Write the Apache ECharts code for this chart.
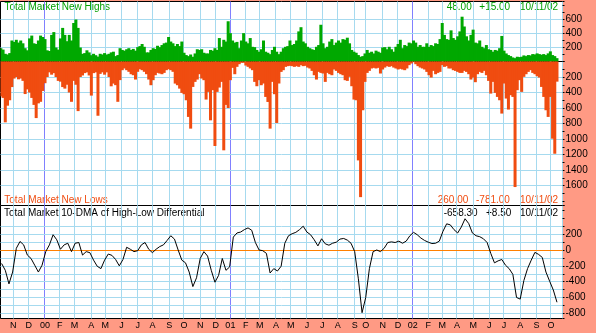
<!DOCTYPE html>
<html><head><meta charset="utf-8">
<script src="https://cdn.jsdelivr.net/npm/echarts@6/dist/echarts.min.js"></script>
<style>html,body{margin:0;padding:0;background:#ff9a84;}#c{width:596px;height:333px;}</style>
</head><body><div id="c"></div>
<script>
// ---------------- data ----------------
const startDate = '1999-10-07';
const endDate = '2002-10-11';
const padDays = 7;
const holidays = ['1999-11-25','1999-12-24',
 '2000-01-17','2000-02-21','2000-04-21','2000-05-29','2000-07-04','2000-09-04','2000-11-23','2000-12-25',
 '2001-01-01','2001-01-15','2001-02-19','2001-04-13','2001-05-28','2001-07-04','2001-09-03','2001-09-11','2001-09-12','2001-09-13','2001-09-14','2001-11-22','2001-12-25',
 '2002-01-01','2002-01-21','2002-02-18','2002-03-29','2002-05-27','2002-07-04','2002-09-02'];

// one value every 3 trading days (last = 10/11/02)
const barStep = 3;
const newHighs = [190,
170,110,100,120,300,280,310,270,300,260,
190,160,330,370,260,250,300,370,350,320,
160,150,380,420,200,170,330,480,380,290,
380,300,550,600,480,200,110,120,160,130,
90,110,90,70,110,100,120,100,110,130,
140,77,92,190,165,155,175,190,165,180,
155,205,220,250,210,130,130,165,190,180,
225,205,235,260,270,350,285,260,220,250,
220,285,125,92,77,100,68,115,175,165,
175,125,115,115,165,155,190,165,335,210,
310,285,575,405,300,270,280,190,300,405,
285,260,335,210,205,165,140,175,300,140,
125,105,165,210,140,105,140,190,210,220,
300,235,250,300,430,490,285,260,210,190,
175,165,210,235,525,260,190,210,285,
320,235,270,300,270,320,310,340,260,165,
140,125,92,68,77,115,165,125,140,115,
155,140,125,200,205,175,210,175,140,210,
250,310,190,235,220,270,260,300,270,210,
235,210,210,260,210,235,220,260,250,320,
550,380,320,310,445,335,310,360,430,640,
500,360,300,380,455,270,260,300,210,190,
235,175,165,140,165,155,190,365,155,115,
92,77,58,48,68,63,68,87,77,92,
87,106,101,116,106,97,106,92,116,145,
92,77,48];

const newLows = [450,
470,785,570,500,330,220,200,230,220,250,
420,360,400,470,560,730,540,520,380,280,
200,140,170,150,200,250,260,330,350,300,
400,520,250,300,640,200,180,150,140,180,
440,150,140,700,160,140,170,140,200,320,
285,305,520,240,112,90,112,133,164,177,
233,133,100,112,133,164,233,306,241,177,
147,155,164,147,112,100,112,133,285,306,
350,405,422,500,715,866,328,263,233,164,
220,241,491,392,759,370,1090,392,336,263,
1146,560,600,241,82,164,69,35,17,17,
52,69,90,112,263,319,241,306,284,457,
522,866,263,422,793,284,134,112,69,60,
56,60,69,60,69,47,60,56,78,90,
121,177,233,134,147,155,263,147,164,
177,103,121,147,164,177,241,250,198,319,
491,500,1276,1750,629,263,147,121,90,82,
90,82,155,103,78,60,69,60,78,90,
103,95,103,112,90,47,26,9,35,60,
78,90,103,134,177,207,121,164,147,134,
47,69,60,90,90,112,121,134,147,147,
121,134,164,233,207,267,164,134,147,121,
177,250,414,263,405,457,500,672,284,478,
620,435,457,1620,370,241,392,198,164,134,
112,147,164,190,207,328,457,629,715,457,
996,1190,260];

// weekly (every 5 trading days, last = 10/11/02)
const dmaStep = 5, dmaOffset = 1;
const dma10 = [-170,
-256,-427,-278,21,107,64,-64,-107,-192,-278,
-192,-21,64,192,128,9,64,85,-21,85,
94,-64,-21,-34,-128,-205,-235,-128,-51,-68,
-120,-200,-120,34,9,-21,-9,64,94,9,
-34,9,43,64,120,179,137,0,-128,-162,
-278,-461,-350,-107,-21,-77,-256,-406,-320,-107,
-256,-214,162,214,226,256,278,248,94,0,
-9,-43,-290,-235,-265,-205,85,179,205,222,
256,299,226,192,128,51,141,77,60,85,
98,137,145,124,85,-21,-363,-790,-598,-235,
-21,0,-21,21,94,102,94,111,85,111,
179,222,192,150,120,98,81,85,111,235,
329,316,256,214,290,393,333,214,179,167,
141,94,-43,-162,-137,-120,-192,-235,-307,-598,
-619,-384,-235,-128,-30,-56,-94,-278,-393,-504,-658.3];

const highTicks = [200,400,600];
const lowTicks = [200,400,600,800,1000,1200,1400,1600];
const dmaTicks = [-800,-600,-400,-200,0,200];
const dmaGrid = [-800,-700,-600,-500,-400,-300,-200,-100,0,100,200,300];
const monthLetters = ['J','F','M','A','M','J','J','A','S','O','N','D'];
const highsInfo = ['48.00','+15.00','10/11/02'];
const lowsInfo = ['260.00','-781.00','10/11/02'];
const dmaInfo = ['-658.30','+8.50','10/11/02'];

// ---------------- calendar ----------------
function tradingDays(start, end, extra) {
  const hol = new Set(holidays), out = [];
  let t = Date.parse(start + 'T00:00:00Z');
  const e = Date.parse(end + 'T00:00:00Z');
  let added = 0;
  while (true) {
    const d = new Date(t), dow = d.getUTCDay(), s = d.toISOString().slice(0, 10);
    if (dow !== 0 && dow !== 6 && !hol.has(s)) {
      if (t <= e) out.push(s);
      else { if (added >= extra) break; out.push(s); added++; }
    }
    t += 86400000;
  }
  return out;
}
const days = tradingDays(startDate, endDate, padDays);
const monthStart = days.map((d, i) => i > 0 && d.slice(5, 7) !== days[i - 1].slice(5, 7));

// ---------------- style ----------------
const FONT = '"Liberation Sans", Arial, sans-serif';
const SALMON = '#ff9a84';
const GRIDC = '#a6daef';
const YEARC = '#8080ff';
const GREEN = '#00a800';
const RED = '#f04c10';
const monthLineColors = [GRIDC, GRIDC, YEARC, GRIDC, GRIDC, GRIDC, GRIDC, GRIDC, GRIDC, GRIDC, GRIDC, GRIDC];

const hiMax = 857.14, loMax = 1858, dmaMin = -863, dmaMax = 560;

function gridLines(vals) {
  return { silent: true, z: 1, symbol: ['none', 'none'], label: { show: false }, emphasis: { disabled: true },
    lineStyle: { color: GRIDC, width: 1, type: 'solid' }, data: vals.map(v => ({ yAxis: v })) };
}

const gridBase = { left: 0.5, right: 33.5, show: true, backgroundColor: '#fff', borderColor: '#000', borderWidth: 1, containLabel: false, outerBoundsMode: 'none' };
const yBase = { type: 'value', position: 'right', axisLine: { show: false },
  axisTick: { show: true, length: 2, lineStyle: { color: '#000' } }, splitLine: { show: false } };
const labelBase = { color: '#000', fontSize: 10, margin: 3, fontFamily: FONT };

const chart = echarts.init(document.getElementById('c'), null, { renderer: 'canvas' });
const option = {
  animation: false,
  backgroundColor: SALMON,
  textStyle: { fontFamily: FONT },
  grid: [
    Object.assign({ top: 1.5, height: 60 }, gridBase),
    Object.assign({ top: 61.5, height: 144 }, gridBase),
    Object.assign({ top: 205.5, height: 113 }, gridBase)
  ],
  xAxis: [0, 1, 2].map(g => ({
    type: 'category', gridIndex: g, data: days, boundaryGap: true,
    axisLine: { show: false }, axisTick: { show: false },
    axisLabel: g === 2 ? {
      show: true, interval: (i) => monthStart[i], color: '#000', fontSize: 9, margin: 3, fontFamily: FONT,
      formatter: (val) => { const mo = +val.slice(5, 7); return mo === 1 ? val.slice(2, 4) : monthLetters[mo - 1]; }
    } : { show: false },
    splitLine: { show: true, interval: (i) => monthStart[i], lineStyle: { color: monthLineColors, width: 1 } }
  })),
  yAxis: [
    Object.assign({ gridIndex: 0, min: 0, max: hiMax, splitNumber: 9,
      axisLabel: Object.assign({ formatter: v => highTicks.includes(v) ? String(v) : '' }, labelBase) }, yBase),
    Object.assign({ gridIndex: 1, inverse: true, min: 0, max: loMax, splitNumber: 19,
      axisLabel: Object.assign({ formatter: v => lowTicks.includes(v) ? String(v) : '' }, labelBase) }, yBase),
    Object.assign({ gridIndex: 2, min: dmaMin, max: dmaMax, splitNumber: 14,
      axisLabel: Object.assign({ formatter: v => dmaTicks.includes(v) ? String(v) : '' }, labelBase) }, yBase)
  ],
  series: [
    { type: 'bar', xAxisIndex: 0, yAxisIndex: 0, barWidth: 3, itemStyle: { color: GREEN }, silent: true, z: 2,
      data: newHighs.map((v, m) => [m * barStep, v]), markLine: gridLines(highTicks) },
    { type: 'bar', xAxisIndex: 1, yAxisIndex: 1, barWidth: 3, itemStyle: { color: RED }, silent: true, z: 2,
      data: newLows.map((v, m) => [m * barStep, v]), markLine: gridLines(lowTicks) },
    { type: 'line', xAxisIndex: 2, yAxisIndex: 2, z: 1, data: [], markLine: gridLines(dmaGrid) },
    { type: 'line', xAxisIndex: 2, yAxisIndex: 2, showSymbol: false, symbol: 'none', silent: true, z: 3,
      lineStyle: { color: '#000', width: 1 }, itemStyle: { color: '#000' },
      data: dma10.map((v, j) => [j * dmaStep + dmaOffset, v]),
      markLine: { silent: true, z: 2, symbol: ['none', 'none'], label: { show: false },
        lineStyle: { color: '#ff8000', width: 1.2, type: 'solid' }, data: [{ yAxis: 0 }] } }
  ],
  graphic: [
    { type: 'text', x: 4.5, y: 7.5, style: { text: 'Total Market New Highs', fill: '#009f00', font: '10px ' + FONT, textVerticalAlign: 'middle' } },
    { type: 'text', x: 446.7, y: 7.5, style: { text: highsInfo[0], fill: '#009f00', font: '10px ' + FONT, textVerticalAlign: 'middle' } },
    { type: 'text', x: 479.3, y: 7.5, style: { text: highsInfo[1], fill: '#009f00', font: '10px ' + FONT, textVerticalAlign: 'middle' } },
    { type: 'text', x: 520, y: 7.5, style: { text: highsInfo[2], fill: '#009f00', font: '10px ' + FONT, textVerticalAlign: 'middle' } },
    { type: 'text', x: 4.3, y: 200, style: { text: 'Total Market New Lows', fill: RED, font: '10px ' + FONT, textVerticalAlign: 'middle' } },
    { type: 'text', x: 437.7, y: 200, style: { text: lowsInfo[0], fill: RED, font: '10px ' + FONT, textVerticalAlign: 'middle' } },
    { type: 'text', x: 476, y: 200, style: { text: lowsInfo[1], fill: RED, font: '10px ' + FONT, textVerticalAlign: 'middle' } },
    { type: 'text', x: 520, y: 200, style: { text: lowsInfo[2], fill: RED, font: '10px ' + FONT, textVerticalAlign: 'middle' } },
    { type: 'text', x: 4, y: 213.5, style: { text: 'Total Market 10-DMA of High-Low Differential', fill: '#000', font: '10px ' + FONT, textVerticalAlign: 'middle' } },
    { type: 'text', x: 443.7, y: 213.5, style: { text: dmaInfo[0], fill: '#000', font: '10px ' + FONT, textVerticalAlign: 'middle' } },
    { type: 'text', x: 486, y: 213.5, style: { text: dmaInfo[1], fill: '#000', font: '10px ' + FONT, textVerticalAlign: 'middle' } },
    { type: 'text', x: 520, y: 213.5, style: { text: dmaInfo[2], fill: '#000', font: '10px ' + FONT, textVerticalAlign: 'middle' } }
  ]
};
chart.setOption(option);
</script>
</body></html>
